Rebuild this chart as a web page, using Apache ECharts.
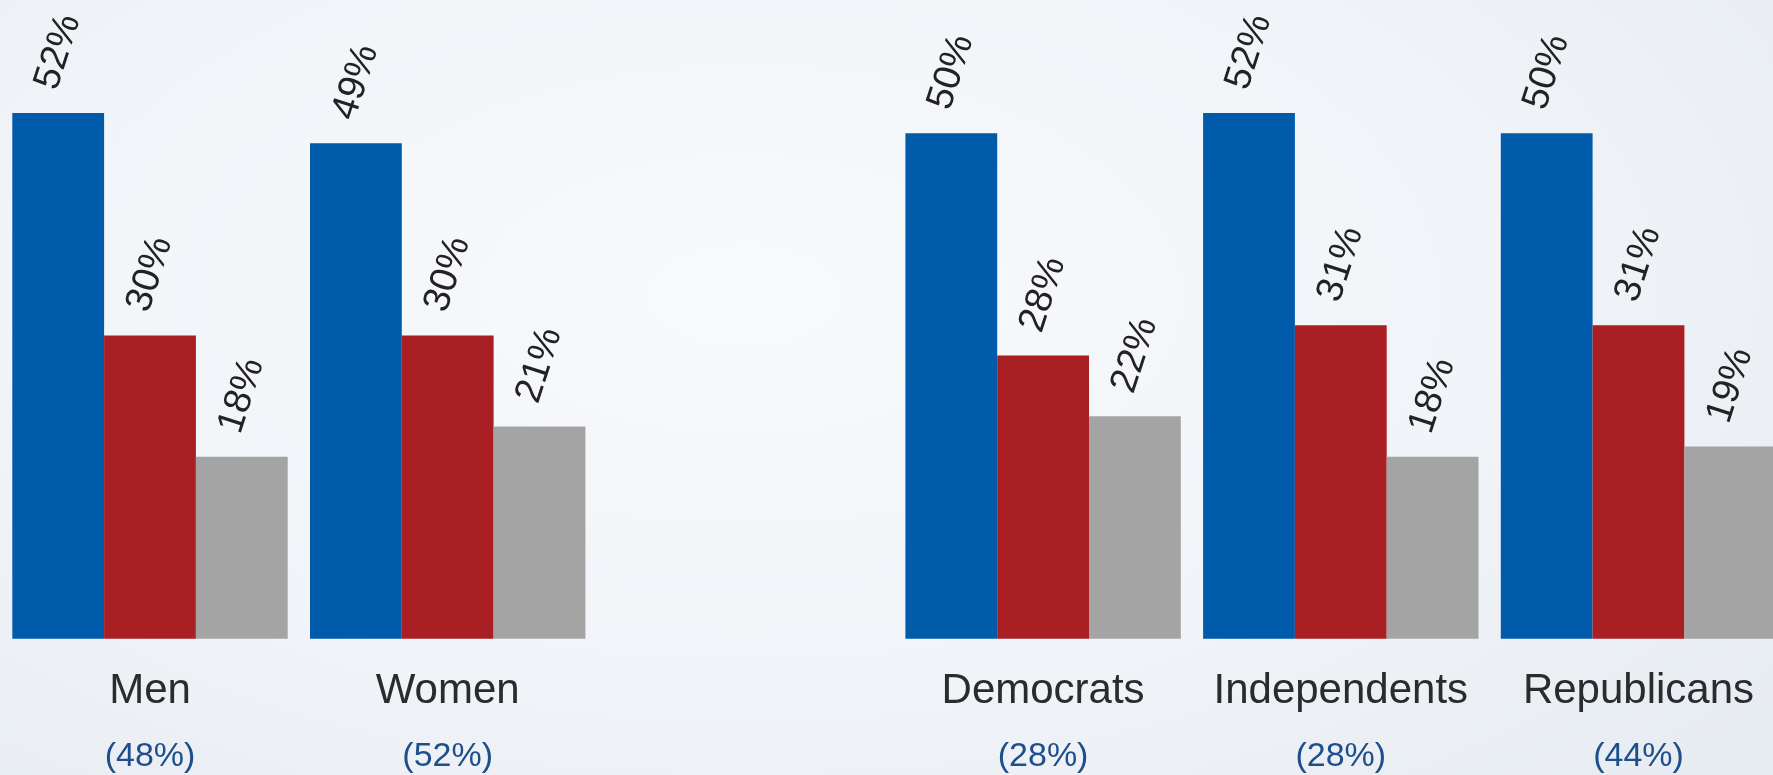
<!DOCTYPE html>
<html>
<head>
<meta charset="utf-8">
<title>Opinion by group</title>
<script src="https://cdn.jsdelivr.net/npm/echarts@6/dist/echarts.min.js"></script>
<style>
  html, body { margin: 0; padding: 0; }
  body {
    width: 1773px; height: 775px; overflow: hidden;
    background: radial-gradient(ellipse 75% 90% at 42% 38%, #f8fafc 0%, #f1f4f8 55%, #e7ecf2 100%);
  }
  #chart { width: 1773px; height: 775px; }
</style>
</head>
<body>
<div id="chart"></div>
<script>
// Groups along the axis; the empty slot separates the gender and party blocks.
const categories = ['Men', 'Women', '', 'Democrats', 'Independents', 'Republicans'];
// Share of the sample each group represents, shown under its name.
const groupShares = ['(48%)', '(52%)', '', '(28%)', '(28%)', '(44%)'];
// Percent responses per group.
const blueValues = [52, 49, null, 50, 52, 50];
const redValues  = [30, 30, null, 28, 31, 31];
const grayValues = [18, 21, null, 22, 18, 19];

const FONT = '"Liberation Sans", Arial, Helvetica, sans-serif';

const valueLabel = {
  show: true,
  position: ['50%', -61],
  rotate: 72,
  align: 'center',
  verticalAlign: 'middle',
  formatter: '{c}%',
  fontFamily: FONT,
  fontSize: 38,
  color: '#222222'
};

function barSeries(name, data, color) {
  return {
    name: name,
    type: 'bar',
    data: data,
    barWidth: 91.8,
    barGap: '0%',
    itemStyle: { color: color },
    label: valueLabel,
    emphasis: { disabled: true },
    animation: false
  };
}

const chart = echarts.init(document.getElementById('chart'), null, { renderer: 'canvas' });
chart.setOption({
  backgroundColor: 'transparent',
  animation: false,
  grid: {
    left: 1.15, width: 1786.2, top: 32.1, bottom: 136.3,
    containLabel: false,
    outerBoundsMode: 'none'
  },
  xAxis: {
    type: 'category',
    data: categories,
    axisLine: { show: false },
    axisTick: { show: false },
    axisLabel: {
      interval: 0,
      margin: 20,
      formatter: function (value, idx) {
        if (!value) return '';
        return '{name|' + value + '}\n{share|' + groupShares[idx] + '}';
      },
      rich: {
        name: { fontFamily: FONT, fontSize: 42, lineHeight: 65, color: '#2b2b2b' },
        share: { fontFamily: FONT, fontSize: 34, lineHeight: 65, color: '#1d4f8d' }
      }
    }
  },
  yAxis: {
    type: 'value',
    min: 0,
    max: 60,
    show: false,
    splitLine: { show: false }
  },
  series: [
    barSeries('blue', blueValues, '#005baa'),
    barSeries('red', redValues, '#a91f24'),
    barSeries('gray', grayValues, '#a4a4a4')
  ]
});
</script>
</body>
</html>
